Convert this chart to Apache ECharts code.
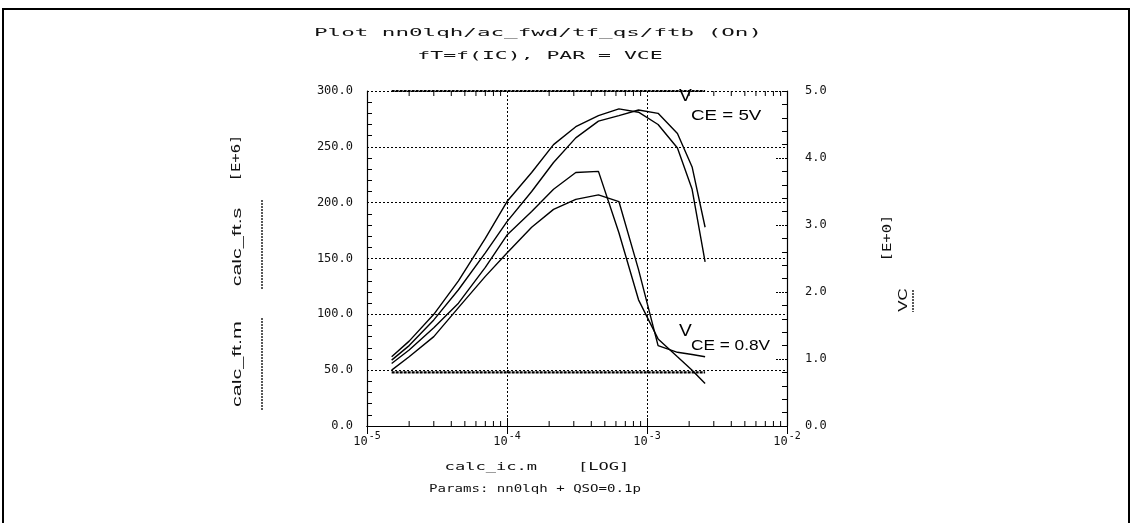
<!DOCTYPE html>
<html>
<head>
<meta charset="utf-8">
<script src="https://cdn.jsdelivr.net/npm/echarts@6/dist/echarts.min.js"></script>
<style>
  html, body { margin: 0; padding: 0; background: #fff; }
  #chart { width: 1133px; height: 523px; }
</style>
</head>
<body>
<div id="chart"></div>
<script>
// Collector current sweep (A)
const icValues = [1.5e-5, 2e-5, 3e-5, 4.5e-5, 7e-5, 1e-4, 1.5e-4, 2.15e-4, 3.1e-4, 4.5e-4, 6.3e-4, 8.7e-4, 1.2e-3, 1.65e-3, 2.1e-3, 2.6e-3];
// Transit frequency fT [E+6 Hz], measured (m) and simulated (s), VCE = 5 V
const ftM5V = [62, 76, 100, 130, 168, 201, 227, 252, 268, 278, 284, 281, 270, 249, 212, 147];
const ftS5V = [59, 72, 95, 122, 155, 183, 210, 236, 258, 273, 278, 283, 280, 262, 232, 178];
// Transit frequency fT [E+6 Hz], VCE = 0.8 V
const ftS08V = [56, 68, 88, 110, 142, 171, 192, 212, 227, 228, 173, 113, 78, 62, 50, 38];
const ftM08V = [50, 62, 80, 106, 134, 155, 178, 194, 203, 207, 201, 140, 72, 66, 64, 62];
// Collector voltage parameter values [E+0 V]
const vcValues = [5, 0.8];
// Minor decade ticks on the log current axis
const minorIc = [];
for (let d = -5; d <= -3; d++) for (let k = 2; k <= 9; k++) minorIc.push(k * Math.pow(10, d));

const pixFont = '"DejaVu Sans Mono", monospace';
const sansFont = '"Liberation Sans", Arial, sans-serif';
const dotted = { color: '#000', width: 1, type: [2, 2] };

function pairs(ys) { return icValues.map((x, i) => [x, ys[i]]); }
function curve(name, ys) {
  return { name, type: 'line', data: pairs(ys), showSymbol: false, symbol: 'none',
    lineStyle: { color: '#000', width: 1.4 }, z: 5, animation: false };
}
function vcLine(v) {
  return { name: 'VC', type: 'line', yAxisIndex: 1, showSymbol: false, symbol: 'none',
    data: icValues.map(x => [x, v]), lineStyle: { color: '#000', width: 2.2, type: [3, 1] }, z: 4, animation: false };
}

function txt(text, x, y, opt) {
  return Object.assign({ type: 'text', x, y, silent: true,
    style: Object.assign({ text, font: '11px ' + pixFont, fill: '#111', align: 'center', verticalAlign: 'middle' }, opt.style || {}) },
    opt.el || {});
}

const chart = echarts.init(document.getElementById('chart'), null, { renderer: 'canvas' });
chart.setOption({
  animation: false,
  backgroundColor: '#fff',
  grid: { left: 367, right: 346, top: 91, bottom: 97, show: false },
  xAxis: [
    { type: 'log', logBase: 10, min: 1e-5, max: 1e-2, position: 'bottom',
      axisLine: { show: true, lineStyle: { color: '#000', width: 1.2 } },
      axisTick: { show: true, inside: true, length: 8, lineStyle: { color: '#000' } },
      axisLabel: { margin: 4, formatter: v => '{b|10}{s|' + Math.round(Math.log10(v)) + '}',
        rich: { b: { fontFamily: pixFont, fontSize: 12, color: '#111', padding: [6, 0, 0, 0] },
                s: { fontFamily: pixFont, fontSize: 10, color: '#111', padding: [0, 0, 5, 1] } } },
      splitLine: { show: true, lineStyle: dotted } },
    { type: 'log', logBase: 10, min: 1e-5, max: 1e-2, position: 'top',
      axisLine: { show: true, lineStyle: { color: '#000', width: 1.2 } },
      axisTick: { show: true, inside: true, length: 8, lineStyle: { color: '#000' } },
      axisLabel: { show: false }, splitLine: { show: false } }
  ],
  yAxis: [
    { type: 'value', min: 0, max: 300, interval: 50, position: 'left',
      axisLine: { show: true, lineStyle: { color: '#000', width: 1.2 } },
      axisTick: { show: true, inside: true, length: 1, lineStyle: { color: '#000' } },
      minorTick: { show: true, splitNumber: 5, length: 5, lineStyle: { color: '#000' } },
      axisLabel: { margin: 14, fontFamily: pixFont, fontSize: 12, color: '#111', formatter: v => v.toFixed(1) },
      splitLine: { show: true, lineStyle: dotted } },
    { type: 'value', min: 0, max: 5, interval: 1, position: 'right',
      axisLine: { show: true, lineStyle: { color: '#000', width: 1.2 } },
      axisTick: { show: true, inside: true, length: 12, lineStyle: { color: '#000', type: [2, 1] } },
      minorTick: { show: true, splitNumber: 5, length: 5, lineStyle: { color: '#000' } },
      axisLabel: { margin: 18, fontFamily: pixFont, fontSize: 12, color: '#111', formatter: v => v.toFixed(1) },
      splitLine: { show: false } }
  ],
  series: [
    curve('calc_ft.m', ftM5V),
    curve('calc_ft.s', ftS5V),
    curve('calc_ft.s', ftS08V),
    curve('calc_ft.m', ftM08V),
    vcLine(vcValues[0]),
    vcLine(vcValues[1]),
    { type: 'custom', silent: true, z: 3, data: minorIc.map(x => [x]),
      renderItem: function (params, api) {
        const bottom = api.coord([api.value(0), 0]);
        const top = api.coord([api.value(0), 300]);
        return { type: 'group', children: [
          { type: 'line', shape: { x1: bottom[0], y1: bottom[1], x2: bottom[0], y2: bottom[1] - 5 }, style: { stroke: '#000', lineWidth: 1 } },
          { type: 'line', shape: { x1: top[0], y1: top[1], x2: top[0], y2: top[1] + 5 }, style: { stroke: '#000', lineWidth: 1 } }
        ] };
      } }
  ],
  graphic: [
    { type: 'rect', silent: true, shape: { x: 3, y: 9, width: 1126, height: 530 }, style: { fill: 'none', stroke: '#000', lineWidth: 2 } },
    txt('Plot nn0lqh/ac_fwd/tf_qs/ftb (On)', 538, 33, { el: { scaleX: 2.05 } }),
    txt('fT=f(IC), PAR = VCE', 540, 56, { el: { scaleX: 1.95 } }),
    txt('calc_ic.m    [LOG]', 537, 467, { el: { scaleX: 1.55 } }),
    txt('Params: nn0lqh + QSO=0.1p', 535, 489, { el: { scaleX: 1.28 } }),
    // left axis title and legend samples
    txt('calc_ft.m', 237, 364, { style: { font: '13px ' + sansFont }, el: { rotation: Math.PI / 2, scaleX: 1.65 } }),
    txt('calc_ft.s', 237, 247, { style: { font: '13px ' + sansFont }, el: { rotation: Math.PI / 2, scaleX: 1.65 } }),
    txt('[E+6]', 237, 158, { style: { font: '12px ' + pixFont }, el: { rotation: Math.PI / 2, scaleX: 1.3 } }),
    { type: 'line', silent: true, shape: { x1: 262, y1: 318, x2: 262, y2: 410 }, style: { stroke: '#000', lineWidth: 1.3, lineDash: [2, 1] } },
    { type: 'line', silent: true, shape: { x1: 262, y1: 200, x2: 262, y2: 290 }, style: { stroke: '#000', lineWidth: 1.3, lineDash: [2, 1] } },
    // right axis title and legend sample
    txt('VC', 903, 300, { style: { font: '13px ' + sansFont }, el: { rotation: Math.PI / 2, scaleX: 1.3 } }),
    txt('[E+0]', 888, 238, { style: { font: '12px ' + pixFont }, el: { rotation: Math.PI / 2, scaleX: 1.3 } }),
    { type: 'line', silent: true, shape: { x1: 913, y1: 290, x2: 913, y2: 312 }, style: { stroke: '#000', lineWidth: 1.3, lineDash: [2, 1] } },
    // curve family annotations
    txt('V', 679, 97, { style: { font: '16px ' + sansFont, fill: '#000', align: 'left' }, el: { scaleX: 1.2 } }),
    txt('CE = 5V', 691, 116, { style: { font: '15px ' + sansFont, fill: '#000', align: 'left' }, el: { scaleX: 1.25 } }),
    txt('V', 679, 332, { style: { font: '16px ' + sansFont, fill: '#000', align: 'left' }, el: { scaleX: 1.2 } }),
    txt('CE = 0.8V', 691, 346, { style: { font: '15px ' + sansFont, fill: '#000', align: 'left' }, el: { scaleX: 1.15 } })
  ]
});
</script>
</body>
</html>
